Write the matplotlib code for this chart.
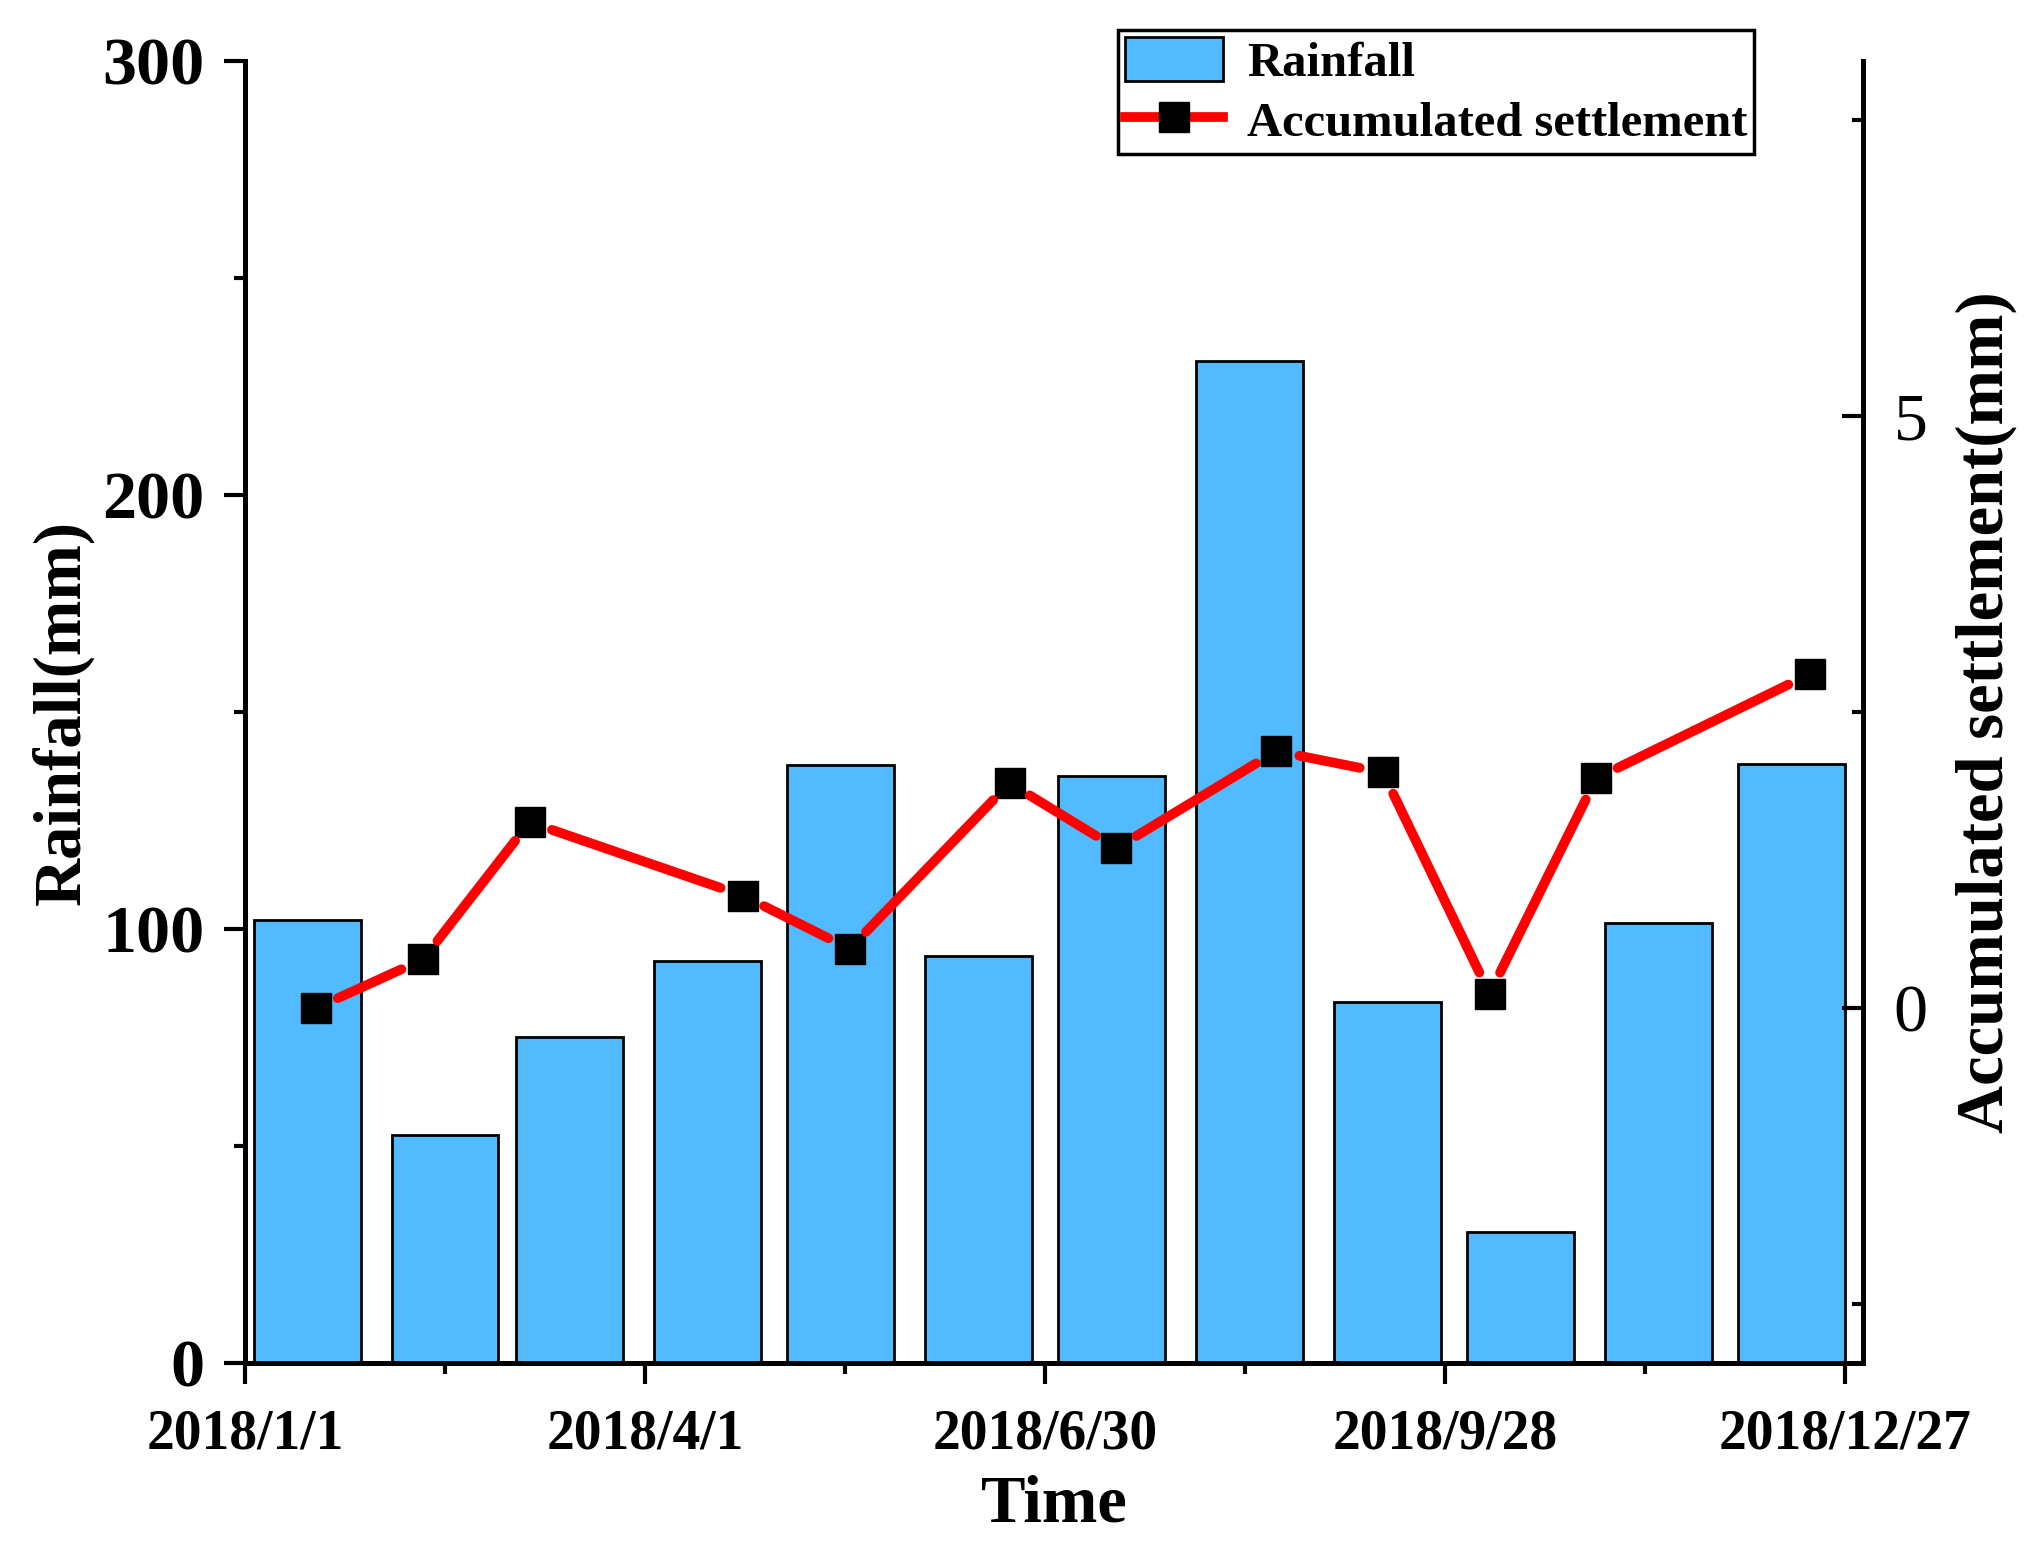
import numpy as np
import matplotlib
matplotlib.use('Agg')
import matplotlib.pyplot as plt
import matplotlib.dates as mdates
from matplotlib.ticker import MultipleLocator, FixedLocator, FuncFormatter
from matplotlib.lines import Line2D
from matplotlib.patches import Patch
import datetime as dt

plt.rcParams['font.family'] = ['Liberation Serif', 'DejaVu Serif']

# 月降雨量（每月15日为柱中心）
month_dates = [dt.date(2018, m, 15) for m in range(1, 13)]
rainfall = [102.2, 52.5, 75.1, 92.7, 137.7, 93.9, 135.3, 231.0, 83.2, 30.1, 101.3, 138.0]

# 累计沉降监测
obs_dates = [dt.date(2018, 1, 17), dt.date(2018, 2, 10), dt.date(2018, 3, 6),
             dt.date(2018, 4, 23), dt.date(2018, 5, 17), dt.date(2018, 6, 22),
             dt.date(2018, 7, 16), dt.date(2018, 8, 21), dt.date(2018, 9, 14),
             dt.date(2018, 10, 8), dt.date(2018, 11, 1), dt.date(2018, 12, 19)]
settlement = [0.0, 0.41, 1.57, 0.95, 0.50, 1.90, 1.35, 2.17, 1.99, 0.12, 1.94, 2.82]

x_start = dt.date(2018, 1, 1)
x_end = dt.date(2018, 12, 31)

fig = plt.figure(figsize=(20.26, 15.49), dpi=100)
ax = fig.add_axes([0.121, 0.120, 0.7985, 0.8406])
ax2 = ax.twinx()

bar_x = mdates.date2num(month_dates)
ax.bar(bar_x, rainfall, width=24, color='#52BBFF', edgecolor='black', linewidth=2.0, zorder=2)

obs_x = mdates.date2num(obs_dates)
# 线段在标记处断开
for i in range(len(obs_x) - 1):
    ax2.annotate('', xy=(obs_x[i + 1], settlement[i + 1]), xytext=(obs_x[i], settlement[i]),
                 arrowprops=dict(arrowstyle='-', color='red', lw=7, shrinkA=17, shrinkB=17,
                                 capstyle='round'))
ax2.plot(obs_x, settlement, linestyle='none', marker='s', markersize=21,
         markerfacecolor='black', markeredgecolor='black')

# x 轴
x0 = mdates.date2num(x_start)
x1 = mdates.date2num(x_end)
ax.set_xlim(x0, x1)
ax.xaxis.set_major_locator(FixedLocator(np.arange(x0, x1 + 1, 90)))
ax.xaxis.set_minor_locator(FixedLocator(np.arange(x0, x1 + 1, 45)))
ax.xaxis.set_major_formatter(FuncFormatter(
    lambda v, p: '{0.year}/{0.month}/{0.day}'.format(mdates.num2date(v))))

# 左轴
ax.set_ylim(0, 300)
ax.yaxis.set_major_locator(MultipleLocator(100))
ax.yaxis.set_minor_locator(MultipleLocator(50))

# 右轴
ax2.set_ylim(-3, 8)
ax2.yaxis.set_major_locator(MultipleLocator(5))
ax2.yaxis.set_minor_locator(MultipleLocator(2.5))

for a in (ax, ax2):
    a.spines['top'].set_visible(False)
    for s in ('left', 'right', 'bottom'):
        a.spines[s].set_linewidth(3.5)

ax.tick_params(axis='both', which='major', direction='out', length=15, width=3, pad=14)
ax.tick_params(axis='both', which='minor', direction='out', length=8, width=3)
ax.tick_params(axis='x', which='major', pad=18)
ax2.tick_params(axis='y', which='major', direction='in', length=15, width=3, pad=22)
ax2.tick_params(axis='y', which='minor', direction='in', length=8, width=3)

for lab in ax.get_yticklabels():
    lab.set_fontsize(49)
    lab.set_fontweight('bold')
for lab in ax.get_xticklabels():
    lab.set_fontsize(40)
    lab.set_fontweight('bold')
for lab in ax2.get_yticklabels():
    lab.set_fontsize(49)

ax.set_xlabel('Time', fontsize=48, fontweight='bold', labelpad=10)
ax.set_ylabel('Rainfall(mm)', fontsize=48, fontweight='bold', labelpad=6)
ax2.set_ylabel('Accumulated settlement(mm)', fontsize=48, fontweight='bold', labelpad=20)

handles = [Patch(facecolor='#52BBFF', edgecolor='black', linewidth=2.0),
           Line2D([], [], color='red', lw=7, marker='s', markersize=21,
                  markerfacecolor='black', markeredgecolor='black')]
leg = ax2.legend(handles, ['Rainfall', 'Accumulated settlement'],
                 loc='upper left', bbox_to_anchor=(1118 / 2026, 1 - 30 / 1549),
                 bbox_transform=fig.transFigure, borderaxespad=0,
                 prop={'family': 'Liberation Serif', 'weight': 'bold', 'size': 35},
                 fancybox=False, edgecolor='black', framealpha=1,
                 handlelength=2.0, handleheight=1.0, handletextpad=0.5,
                 labelspacing=0.25, borderpad=0.15)
leg.get_frame().set_linewidth(2.5)

fig.savefig('out.png', dpi=100)
